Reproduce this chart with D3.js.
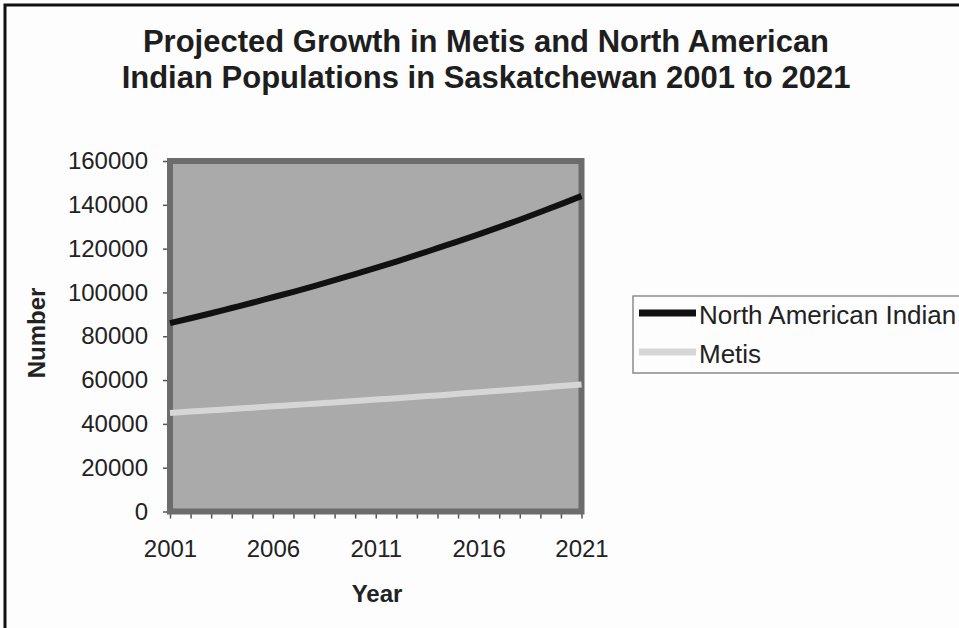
<!DOCTYPE html>
<html>
<head>
<meta charset="utf-8">
<script src="https://cdn.jsdelivr.net/npm/d3@7"></script>
<style>
  html, body { margin: 0; padding: 0; background: #fdfdfd; }
  svg { display: block; font-family: "Liberation Sans", Arial, sans-serif; }
</style>
</head>
<body>
<svg id="chart" width="959" height="628"></svg>
<script>
// Projected populations, Saskatchewan, one value per year
const years = [2001, 2002, 2003, 2004, 2005, 2006, 2007, 2008, 2009, 2010, 2011,
               2012, 2013, 2014, 2015, 2016, 2017, 2018, 2019, 2020, 2021];
const northAmericanIndian = [86000, 88200, 90500, 92900, 95300, 97800, 100300, 102900, 105600, 108400, 111200,
                             114100, 117100, 120200, 123300, 126500, 129800, 133200, 136700, 140300, 144000];
const metis = [45000, 45600, 46200, 46800, 47400, 48000, 48600, 49200, 49800, 50400, 51100,
               51700, 52400, 53000, 53700, 54400, 55100, 55800, 56500, 57300, 58000];
const yTickValues = [0, 20000, 40000, 60000, 80000, 100000, 120000, 140000, 160000];
const xLabelYears = [2001, 2006, 2011, 2016, 2021];
const seriesNames = ["North American Indian", "Metis"];
const titleLines = ["Projected Growth in Metis and North American",
                    "Indian Populations in Saskatchewan 2001 to 2021"];

const svg = d3.select("#chart");

const plot = { left: 170, right: 581.5, top: 161, bottom: 511.5 };
const x = d3.scaleLinear().domain([2001, 2021]).range([plot.left, plot.right]);
const y = d3.scaleLinear().domain([0, 160000]).range([plot.bottom, plot.top]);

// outer frame
svg.append("rect")
  .attr("x", 5).attr("y", 5).attr("width", 1000).attr("height", 700)
  .attr("fill", "#fdfdfd").attr("stroke", "#111").attr("stroke-width", 3);

// title
svg.append("g").selectAll("text").data(titleLines).join("text")
  .attr("x", 486).attr("y", (d, i) => 52 + i * 36)
  .attr("text-anchor", "middle")
  .attr("font-size", 31).attr("font-weight", "bold").attr("fill", "#1e1e1e")
  .text(d => d);

// plot area
svg.append("rect")
  .attr("x", plot.left).attr("y", plot.top)
  .attr("width", plot.right - plot.left).attr("height", plot.bottom - plot.top)
  .attr("fill", "#aaaaaa");

// y axis
const yAxis = svg.append("g")
  .attr("transform", `translate(${plot.left},0)`)
  .call(d3.axisLeft(y).tickValues(yTickValues).tickSize(7).tickPadding(15).tickFormat(d3.format("d")));
yAxis.select(".domain").remove();
yAxis.selectAll("line").attr("stroke", "#555").attr("stroke-width", 1.5);
yAxis.selectAll("text").attr("font-size", 24).attr("fill", "#222").attr("font-family", "Liberation Sans, Arial, sans-serif");

// x axis: a tick every year, labels every five years
const xAxis = svg.append("g")
  .attr("transform", `translate(0,${plot.bottom})`)
  .call(d3.axisBottom(x).tickValues(years).tickSize(7).tickPadding(21)
    .tickFormat(d => xLabelYears.includes(d) ? String(d) : ""));
xAxis.select(".domain").remove();
xAxis.selectAll("line").attr("stroke", "#555").attr("stroke-width", 1.5);
xAxis.selectAll("text").attr("font-size", 24).attr("fill", "#222").attr("font-family", "Liberation Sans, Arial, sans-serif");

// plot border
svg.append("rect")
  .attr("x", plot.left).attr("y", plot.top)
  .attr("width", plot.right - plot.left).attr("height", plot.bottom - plot.top)
  .attr("fill", "none").attr("stroke", "#6c6c6c").attr("stroke-width", 6);

// series lines
const line = d3.line().x((d, i) => x(years[i])).y(d => y(d)).curve(d3.curveMonotoneX);
const seriesData = [northAmericanIndian, metis];
const seriesColors = ["#111111", "#d6d6d6"];
svg.append("g").selectAll("path").data(seriesData).join("path")
  .attr("d", line)
  .attr("fill", "none")
  .attr("stroke", (d, i) => seriesColors[i])
  .attr("stroke-width", 6)
  .attr("stroke-linecap", "butt");

// axis titles
svg.append("text")
  .attr("transform", "translate(45,333) rotate(-90)")
  .attr("text-anchor", "middle")
  .attr("font-size", 24).attr("font-weight", "bold").attr("fill", "#222")
  .text("Number");
svg.append("text")
  .attr("x", 377).attr("y", 602)
  .attr("text-anchor", "middle")
  .attr("font-size", 24).attr("font-weight", "bold").attr("fill", "#222")
  .text("Year");

// legend
const legend = svg.append("g");
legend.append("rect")
  .attr("x", 633).attr("y", 296).attr("width", 400).attr("height", 77)
  .attr("fill", "#fdfdfd").attr("stroke", "#8a8a8a").attr("stroke-width", 1.5);
const items = legend.selectAll("g.item").data(seriesNames).join("g")
  .attr("class", "item")
  .attr("transform", (d, i) => `translate(0,${313 + i * 39})`);
items.append("line")
  .attr("x1", 639).attr("x2", 696).attr("y1", 0).attr("y2", 0)
  .attr("stroke", (d, i) => seriesColors[i]).attr("stroke-width", 7);
items.append("text")
  .attr("x", 699).attr("y", 4)
  .attr("dominant-baseline", "middle")
  .attr("font-size", 26).attr("fill", "#222")
  .text(d => d);
</script>
</body>
</html>
